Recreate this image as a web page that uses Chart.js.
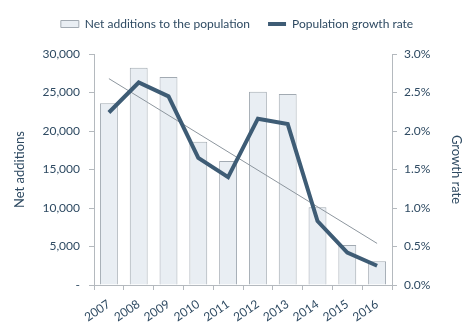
<!DOCTYPE html>
<html>
<head>
<meta charset="utf-8">
<script src="https://cdn.jsdelivr.net/npm/chart.js@4/dist/chart.umd.min.js"></script>
<style>
    html, body { margin: 0; padding: 0; background: #fff; }
    #wrap { width: 474px; height: 331px; position: relative; }
</style>
</head>
<body>
<div id="wrap"><canvas id="popChart" width="474" height="331"></canvas></div>
<script>
// Yearly figures
const years = ["2007", "2008", "2009", "2010", "2011", "2012", "2013", "2014", "2015", "2016"];
const netAdditions = [23600, 28200, 27000, 18600, 16100, 25100, 24800, 10100, 5200, 3100];
const growthRate = [2.24, 2.63, 2.45, 1.65, 1.40, 2.16, 2.09, 0.83, 0.42, 0.25];
// linear trend of the growth rate, first and last year only
const growthTrend = [2.68, null, null, null, null, null, null, null, null, 0.54];

const textColor = "#2e4a62";
const axisColor = "#b4b9be";
const fontFamily = "Lato, 'Open Sans', sans-serif";

// extra room under the legend
const legendGap = {
    id: "legendGap",
    beforeLayout(chart) {
        const legend = chart.legend;
        if (!legend || legend._gapPatched) return;
        const fit = legend.fit;
        legend.fit = function () {
            fit.call(this);
            this.height += 14;
        };
        legend._gapPatched = true;
    },
};

const ctx = document.getElementById("popChart").getContext("2d");
const popChart = new Chart(ctx, {
    type: "bar",
    data: {
        labels: years,
        datasets: [
            {
                type: "line",
                label: "Population growth rate",
                data: growthRate,
                yAxisID: "y1",
                borderColor: "#3e5c75",
                backgroundColor: "#3e5c75",
                borderWidth: 4,
                pointRadius: 0,
                tension: 0,
                pointStyle: "line",
                order: 0,
            },
            {
                type: "line",
                label: "trend",
                data: growthTrend,
                yAxisID: "y1",
                borderColor: "#8d969e",
                borderWidth: 1,
                pointRadius: 0,
                spanGaps: true,
                order: 1,
            },
            {
                label: "Net additions to the population",
                data: netAdditions,
                yAxisID: "y",
                backgroundColor: "#e9eef3",
                borderColor: "#a2aab2",
                borderWidth: 1,
                barPercentage: 0.6,
                categoryPercentage: 1,
                pointStyle: "rect",
                order: 2,
            },
        ],
    },
    options: {
        responsive: false,
        animation: false,
        layout: { padding: { left: 8, right: 8, top: 0, bottom: 0 } },
        plugins: {
            tooltip: { enabled: false },
            legend: {
                position: "top",
                reverse: true,
                labels: {
                    color: textColor,
                    font: { family: fontFamily, size: 12 },
                    usePointStyle: true,
                    pointStyleWidth: 18,
                    boxHeight: 7,
                    padding: 18,
                    filter: (item) => item.text !== "trend",
                },
            },
        },
        scales: {
            x: {
                grid: { drawOnChartArea: false, drawTicks: true, tickLength: 5, color: axisColor },
                border: { color: axisColor },
                ticks: {
                    color: textColor,
                    font: { family: fontFamily, size: 12 },
                    autoSkip: false,
                    minRotation: 34,
                    maxRotation: 34,
                    padding: 7,
                },
                afterFit: (s) => { s.height = 46; },
            },
            y: {
                position: "left",
                min: 0,
                max: 30000,
                ticks: {
                    stepSize: 5000,
                    color: textColor,
                    font: { family: fontFamily, size: 12 },
                    padding: 9,
                    callback: (v) => (v === 0 ? "-" : v.toLocaleString("en-US")),
                },
                grid: { drawOnChartArea: false, drawTicks: true, tickLength: 5, color: axisColor },
                border: { color: axisColor },
                title: {
                    display: true,
                    text: "Net additions",
                    color: textColor,
                    font: { family: fontFamily, size: 13 },
                    padding: { top: 4, bottom: 0 },
                },
                afterFit: (s) => { s.width = 86; },
            },
            y1: {
                position: "right",
                min: 0,
                max: 3,
                ticks: {
                    stepSize: 0.5,
                    color: textColor,
                    font: { family: fontFamily, size: 12 },
                    padding: 7,
                    callback: (v) => v.toFixed(1) + "%",
                },
                grid: { drawOnChartArea: false, drawTicks: true, tickLength: 5, color: axisColor },
                border: { color: axisColor },
                title: {
                    display: true,
                    text: "Growth rate",
                    color: textColor,
                    font: { family: fontFamily, size: 13 },
                    padding: { top: 2, bottom: 0 },
                },
                afterFit: (s) => { s.width = 74; },
            },
        },
    },
    plugins: [legendGap],
});
</script>
</body>
</html>
